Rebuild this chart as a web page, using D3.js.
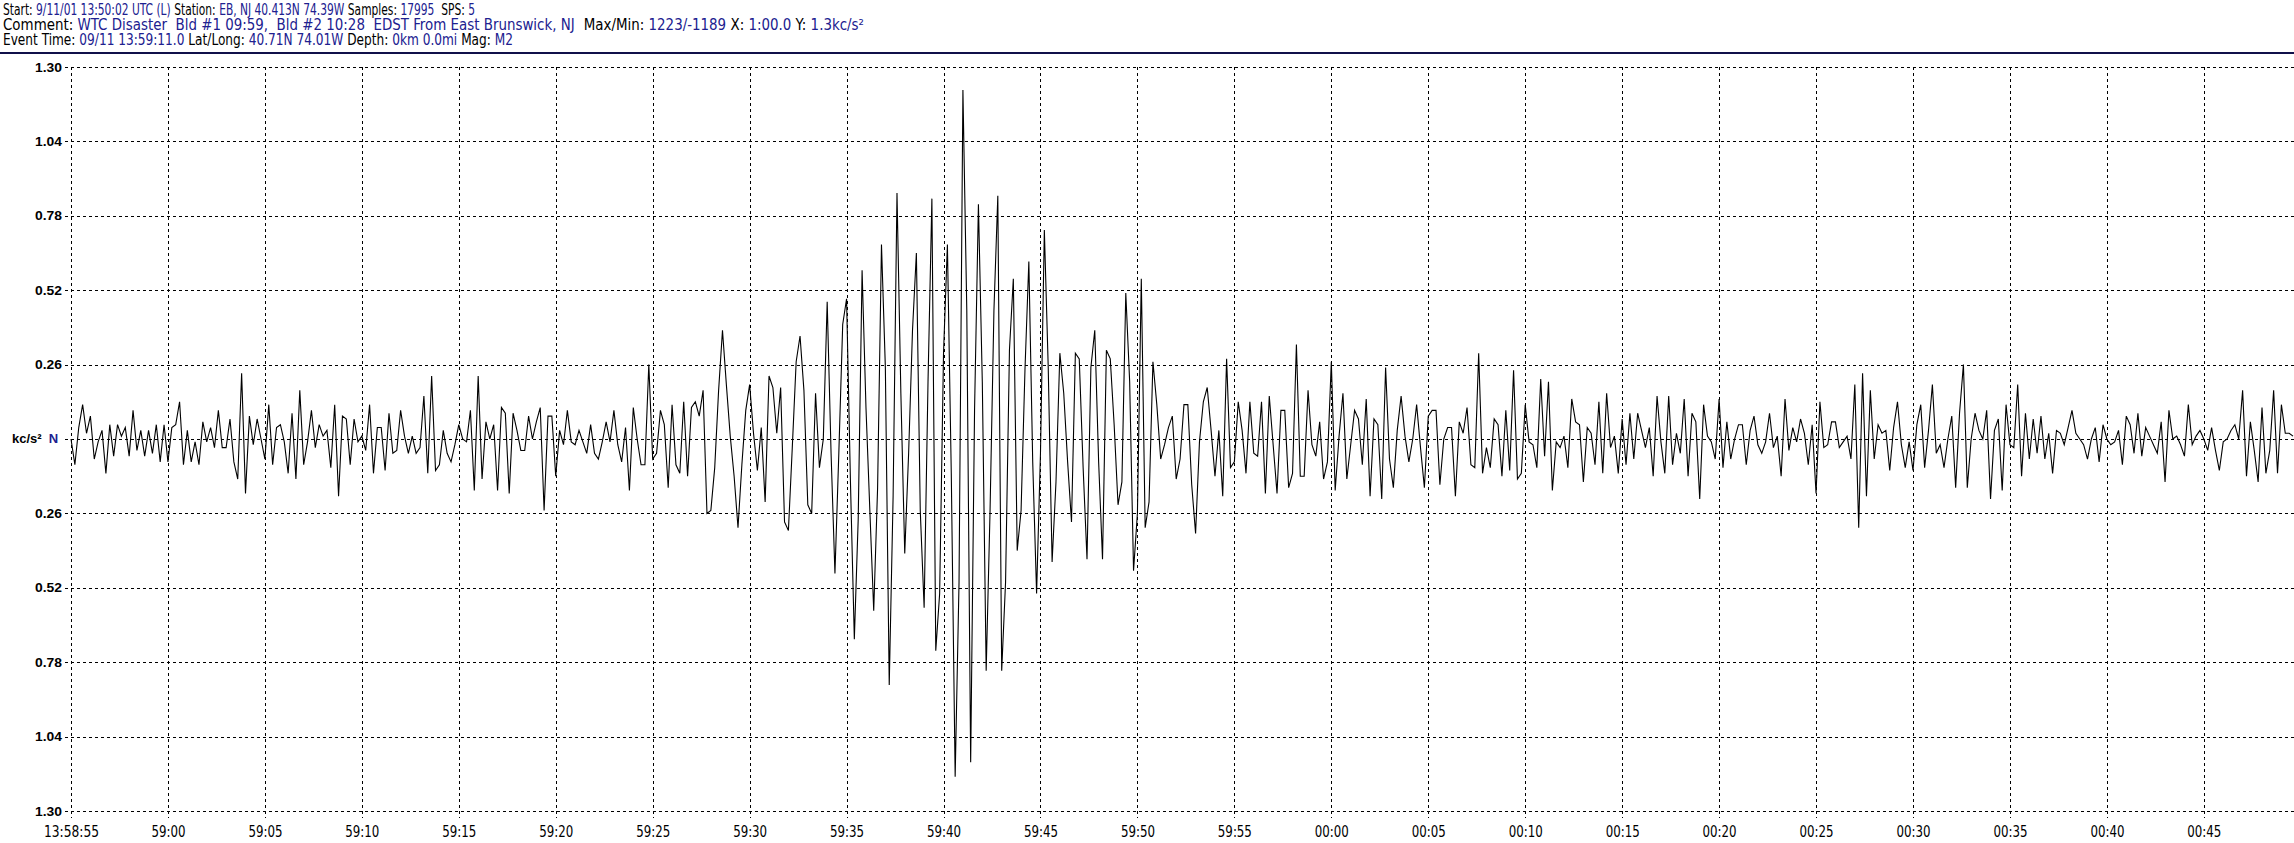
<!DOCTYPE html>
<html><head><meta charset="utf-8">
<script src="https://cdn.jsdelivr.net/npm/d3@7"></script>
<style>
html,body{margin:0;padding:0;background:#fff;overflow:hidden}
svg{display:block}
.narrow{font-family:"Liberation Sans Narrow","Arial Narrow","DejaVu Sans Condensed",sans-serif;font-stretch:condensed}
.bold{font-family:"Liberation Sans",Arial,sans-serif;font-weight:bold}
</style></head><body>
<svg id="chart" width="2294" height="843"></svg>
<script>
// ---------------- data ----------------
const startTime = new Date(Date.UTC(2001, 8, 11, 13, 58, 55));
const samplesPerSecond = 5;
const visibleSeconds = 114.65;

// acceleration samples (kc/s²), in consecutive blocks
const wave1 = [
 0.00,-0.09,0.04,0.12,0.02,0.08,-0.07,-0.01,0.03,-0.12,
 0.05,-0.06,0.05,0.01,0.04,-0.06,0.10,-0.04,0.03,-0.06,
 0.03,-0.05,0.05,-0.08,0.05,-0.08,0.04,0.05,0.13,-0.09,
 0.03,-0.08,-0.01,-0.09,0.06,-0.01,0.04,-0.03,0.10,-0.03,
 -0.03,0.07,-0.08,-0.14,0.23,-0.19,0.08,-0.02,0.07,0.00,
 -0.07,0.12,-0.09,0.04,0.05,-0.01,-0.12,0.09,-0.14,0.17,
 -0.09,-0.01,0.10,-0.03,0.05,0.01,0.03,-0.10,0.12,-0.20,
 0.08,0.07,-0.09,0.07,-0.01,0.01,-0.04,0.12,-0.12,0.04,
 0.04,-0.11,0.09,-0.05,-0.04,0.10,0.01,-0.05,0.01,-0.05,
 -0.03,0.15,-0.12,0.22,-0.11];
const wave2 = [
 -0.09,0.03,-0.05,-0.08,-0.02,0.05,0.00,-0.01,0.10,-0.18,
 0.22,-0.14,0.06,0.00,0.05,-0.18,0.11,0.09,-0.19,0.09,
 0.03,-0.04,-0.04,0.08,0.00,0.06,0.11,-0.25,0.08,0.08,
 -0.13,0.03,-0.02,0.10,-0.01,-0.02,0.03,-0.01,-0.05,0.05,
 -0.05,-0.07,-0.01,0.06,-0.01,0.10,-0.02,-0.08,0.04,-0.18,
 0.11,0.00,-0.09,-0.09,0.26,-0.07,-0.05,0.10,0.05,-0.17,
 0.12,-0.09,-0.12,0.13,-0.13,0.11,0.13,0.08,0.17,-0.26,
 -0.25,-0.10,0.17,0.38,0.19,0.01,-0.13,-0.31,-0.09,0.10,
 0.19,0.02,-0.11,0.04,-0.22,0.22,0.18,0.02,0.18,-0.29,
 -0.32,-0.03,0.27,0.36,0.17,-0.23];
const wave3 = [
 -0.26,0.16,-0.10,0.00,0.48,-0.05,-0.47,-0.05,0.40,0.49,
 -0.15,-0.70,-0.28,0.59,0.11,-0.25,-0.60,-0.17,0.68,0.25,
 -0.86,-0.20,0.86,0.16,-0.40,-0.05,0.38,0.65,-0.25,-0.59,
 0.20,0.84,-0.74,-0.54,0.30,0.68,-0.12,-1.18,-0.50,1.22,
 0.45,-1.13,0.10,0.82,0.20,-0.81,-0.25,0.45,0.85,-0.81,
 -0.50,0.31,0.56,-0.39,-0.25,0.24,0.62,-0.08,-0.54,-0.05,
 0.73,0.25,-0.43,-0.15,0.30,0.16,-0.08,-0.29,0.30,0.28,
 -0.10,-0.42,0.25,0.38,-0.08,-0.42,0.31,0.28,0.05,-0.23,
 -0.15,0.51,0.20,-0.46,-0.26,0.56,-0.31,-0.22,0.27,0.12,
 -0.07,-0.02,0.04,0.08,-0.14];
const wave4 = [
 -0.07,0.12,0.12,-0.16,-0.33,-0.01,0.13,0.18,0.03,-0.13,
 0.03,-0.20,0.28,-0.10,-0.08,0.13,0.03,-0.12,0.13,-0.05,
 -0.06,0.13,-0.19,0.15,-0.02,-0.19,0.10,0.10,-0.17,-0.12,
 0.33,-0.13,-0.13,0.17,-0.02,-0.06,0.06,-0.14,-0.08,0.27,
 -0.18,0.01,0.16,-0.14,-0.02,0.10,0.07,-0.09,0.14,-0.20,
 0.07,0.05,-0.21,0.25,-0.07,-0.17,0.03,0.15,0.01,
 -0.08,0.00,0.12,-0.03,-0.17,0.08,0.10,0.10,-0.16,0.00,
 0.04,0.04,-0.20,0.06,0.02,0.11,-0.09,-0.10,0.30,-0.12,
 -0.03,-0.10,0.07,0.05,-0.13,0.10,-0.11,0.24,-0.14,-0.12,
 0.12,-0.01,-0.02,-0.10,0.21,-0.06,0.20,-0.18];
const wave5 = [
 -0.01,-0.03,0.01,-0.10,0.14,0.06,0.05,-0.15,0.04,0.02,
 -0.09,0.13,-0.12,0.16,-0.03,0.01,-0.12,0.07,-0.09,0.09,
 -0.07,0.09,0.03,-0.03,0.04,-0.13,0.15,-0.01,-0.12,0.15,
 -0.09,0.02,-0.05,0.14,-0.13,0.09,0.06,-0.21,0.12,0.01,
 -0.01,-0.07,0.14,-0.10,0.06,-0.07,0.00,0.05,0.05,-0.09,
 0.03,0.08,-0.02,-0.05,-0.01,0.09,-0.03,0.01,-0.13,0.14,
 -0.04,0.04,-0.01,0.07,0.02,-0.09,0.05,-0.19,0.13,-0.03,
 -0.02,0.06,0.06,-0.03,-0.01,0.01,-0.07,0.19,-0.31,0.23,
 -0.20,0.17,-0.07,0.05,0.02,0.03,-0.11,0.04,0.13,-0.02,
 -0.10,-0.01,-0.11,0.05,0.12,-0.10,0.03];
const wave6 = [
 0.19,-0.05,-0.02,-0.10,0.00,0.08,-0.17,0.09,0.26,-0.17,
 0.00,0.09,0.03,0.00,0.10,-0.21,0.03,0.07,-0.18,0.12,
 -0.02,-0.03,0.19,-0.13,0.09,-0.07,0.07,-0.05,0.08,-0.07,
 0.02,-0.12,0.03,0.02,-0.02,0.04,0.10,0.02,0.00,-0.02,
 -0.07,0.00,0.04,-0.08,0.05,0.00,-0.02,-0.01,0.03,-0.09,
 0.08,0.05,-0.05,0.09,-0.06,0.04,0.01,-0.02,-0.05,0.06,
 -0.15,0.10,0.00,0.01,-0.02,-0.06,0.12,-0.02,0.01,0.03,
 0.00,-0.04,0.04,-0.04,-0.11,-0.01,0.00,0.03,0.05,0.00,
 0.17,-0.13,0.06,-0.04,-0.15,0.11,-0.12,-0.04,0.17,-0.12,
 0.12,0.02,0.02,0.01];

const yTickValues = [1.30,1.04,0.78,0.52,0.26,0,-0.26,-0.52,-0.78,-1.04,-1.30];
const xTickLabels = ["13:58:55","59:00","59:05","59:10","59:15","59:20","59:25","59:30","59:35","59:40",
  "59:45","59:50","59:55","00:00","00:05","00:10","00:15","00:20","00:25","00:30","00:35","00:40","00:45"];
const xTickStepSeconds = 5;
const unitLabel = "kc/s²";
const channelLabel = "N";

// header: [text, isValue]
const header1 = [["Start: ",0],["9/11/01 13:50:02 UTC (L)",1],[" Station: ",0],["EB, NJ 40.413N 74.39W",1],
  [" Samples: ",0],["17995",1],["  SPS: ",0],["5",1]];
const header2 = [["Comment: ",0],["WTC Disaster  Bld #1 09:59,  Bld #2 10:28  EDST From East Brunswick, NJ",1],
  ["  Max/Min: ",0],["1223/-1189",1],[" X: ",0],["1:00.0",1],[" Y: ",0],["1.3kc/s²",1]];
const header3 = [["Event Time: ",0],["09/11 13:59:11.0",1],[" Lat/Long: ",0],["40.71N 74.01W",1],
  [" Depth: ",0],["0km 0.0mi",1],[" Mag: ",0],["M2",1]];

// ---------------- drawing ----------------
const W = 2294, H = 843;
const plotLeft = 71, plotTop = 67, plotBottom = 811;
const navy = "#20208f";
const svg = d3.select("#chart");

const samples = [].concat(wave1, wave2, wave3, wave4, wave5, wave6)
  .map((v, i) => ({t: new Date(startTime.getTime() + i * 1000 / samplesPerSecond), v}));

const x = d3.scaleUtc()
  .domain([startTime, new Date(startTime.getTime() + visibleSeconds * 1000)])
  .range([plotLeft, W]);
const y = d3.scaleLinear().domain([-1.3, 1.3]).range([plotBottom, plotTop]);

const xTickDates = xTickLabels.map((_, i) => new Date(startTime.getTime() + i * xTickStepSeconds * 1000));

// header: each segment its own text, laid end to end, then the line is scaled to width
const headerLines = [header1, header2, header3];
const headerLengths = [472, 861, 510];
const headerBaselines = [14.5, 30, 45];
headerLines.forEach((parts, li) => {
  const g = svg.append("g");
  let cx = 0;
  parts.forEach(p => {
    const t = g.append("text").attr("class", "narrow")
      .attr("x", cx).attr("y", 0).attr("font-size", 16)
      .attr("xml:space", "preserve").style("white-space", "pre")
      .attr("fill", p[1] ? navy : "#000").text(p[0]);
    cx += t.node().getComputedTextLength();
  });
  g.attr("transform", `translate(3,${headerBaselines[li]}) scale(${headerLengths[li] / cx},1)`);
});

// separator
svg.append("rect").attr("x", 0).attr("y", 52).attr("width", W).attr("height", 2)
  .attr("fill", "#10104a");

// grid
const grid = svg.append("g").attr("stroke", "#000").attr("stroke-width", 1)
  .attr("stroke-dasharray", "3,3").attr("shape-rendering", "crispEdges");
grid.selectAll("line.h").data(yTickValues).join("line").attr("class", "h")
  .attr("x1", plotLeft - 6).attr("x2", W)
  .attr("y1", d => Math.round(y(d)) + 0.5).attr("y2", d => Math.round(y(d)) + 0.5);
grid.selectAll("line.v").data(xTickDates).join("line").attr("class", "v")
  .attr("x1", d => Math.round(x(d)) + 0.5).attr("x2", d => Math.round(x(d)) + 0.5)
  .attr("y1", plotTop).attr("y2", plotBottom + 7);

// y axis labels
const yAxis = d3.axisLeft(y).tickValues(yTickValues).tickSize(0).tickPadding(9)
  .tickFormat(d => d === 0 ? "" : Math.abs(d).toFixed(2));
const gy = svg.append("g").attr("transform", `translate(${plotLeft},0)`).call(yAxis);
gy.select(".domain").remove();
gy.selectAll("text").attr("class", "bold").attr("font-size", 13).attr("fill", "#000")
  .attr("textLength", d => d === 0 ? null : 27).attr("lengthAdjust", "spacingAndGlyphs");
const unit = svg.append("text").attr("class", "bold").attr("x", 12).attr("y", y(0) - 1)
  .attr("dy", "0.35em").attr("font-size", 13).style("white-space", "pre");
unit.append("tspan").text(unitLabel + "  ").attr("fill", "#000");
unit.append("tspan").text(channelLabel).attr("fill", navy);

// x axis labels
const xAxis = d3.axisBottom(x).tickValues(xTickDates).tickSize(0).tickPadding(0)
  .tickFormat((d, i) => xTickLabels[i]);
const gx = svg.append("g").attr("transform", `translate(0,${plotBottom})`).call(xAxis);
gx.select(".domain").remove();
gx.selectAll("text").attr("class", "narrow").attr("font-size", 16).attr("fill", "#000")
  .attr("y", 20).attr("dy", "0.35em")
  .attr("textLength", (d, i) => i === 0 ? 55 : 34).attr("lengthAdjust", "spacingAndGlyphs");

// trace
const line = d3.line().x(d => x(d.t)).y(d => y(d.v));
svg.append("path").datum(samples).attr("d", line)
  .attr("fill", "none").attr("stroke", "#000").attr("stroke-width", 1.1)
  .attr("stroke-linejoin", "miter");
</script>
</body></html>
